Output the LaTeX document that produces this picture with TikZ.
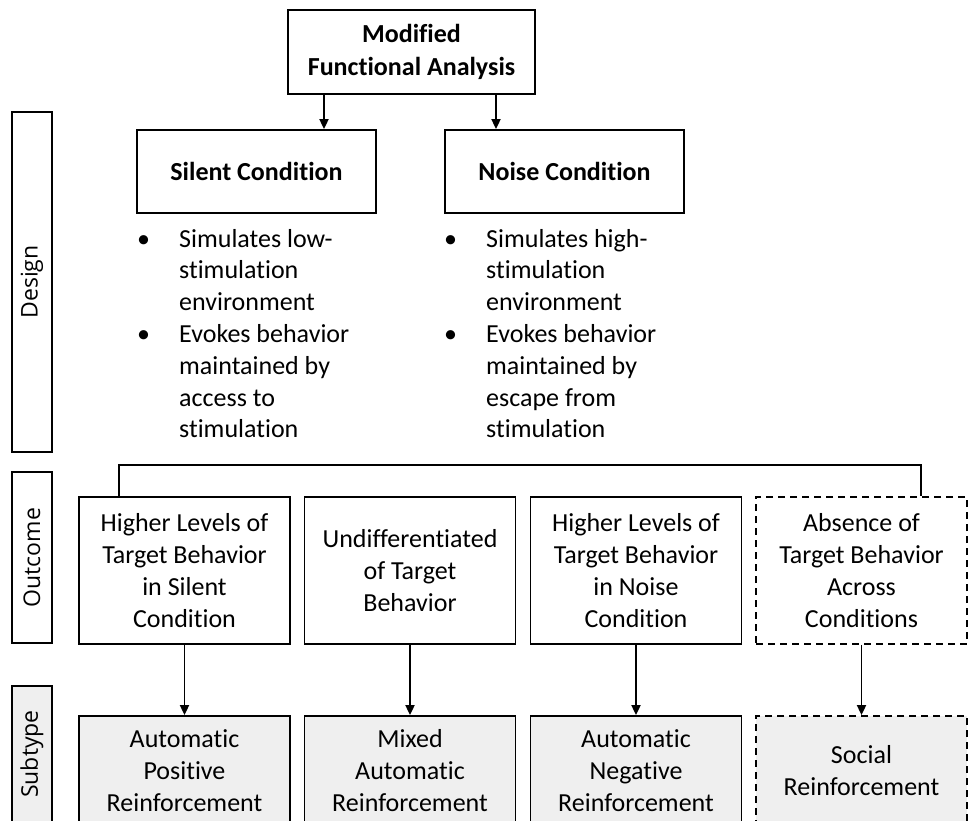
\documentclass[tikz,border=0pt]{standalone}
\usepackage{fontspec}
\setmainfont{Carlito}[Ligatures={NoCommon}]
\newfontfamily\labelfont{Open Sans}
\usetikzlibrary{arrows.meta}
\definecolor{subfill}{HTML}{EFEFEF}
\begin{document}
\begin{tikzpicture}[x=1pt,y=-1pt,
  box/.style={draw=black, line width=1.8pt, inner sep=0pt, align=center, font=\fontsize{26}{32}\selectfont},
  boldbox/.style={box, font=\bfseries\fontsize{26}{33}\selectfont},
  outbox/.style={box, minimum width=211pt, minimum height=147pt},
  subbox/.style={box, fill=subfill, minimum width=211pt, minimum height=110pt},
  dashbox/.style={dash pattern=on 7pt off 5pt},
  sidebox/.style={draw=black, line width=1.8pt, inner sep=0pt, rotate=90, minimum height=40pt, font=\labelfont\fontsize{23}{27}\selectfont},
  arr/.style={line width=1.8pt, -{Triangle[length=10pt,width=9pt]}},
  conn/.style={line width=1.8pt},
  blist/.style={anchor=north west, inner sep=0pt, font=\fontsize{26}{31.8}\selectfont}
]
\useasboundingbox (0,0) rectangle (968,820);
\clip (0,0) rectangle (968,820);

% top
\node[boldbox, minimum width=247pt, minimum height=84pt] (top) at (411.5,52) {Modified\\Functional Analysis};
\node[boldbox, minimum width=239pt, minimum height=83pt] (silent) at (256.5,171.5) {Silent Condition};
\node[boldbox, minimum width=239pt, minimum height=83pt] (noise) at (564.5,171.5) {Noise Condition};

\coordinate (ta) at (324,0);
\coordinate (tb) at (496,0);
\draw[arr] (ta |- top.south) -- (ta |- silent.north);
\draw[arr] (tb |- top.south) -- (tb |- noise.north);

% bullet lists
\node[blist] (silentlist) at (137,224.7) {\begin{tabular}{@{}p{42pt}@{}l@{}}
\textbullet & Simulates low-\\
 & stimulation\\
 & environment\\
\textbullet & Evokes behavior\\
 & maintained by\\
 & access to\\
 & stimulation
\end{tabular}};
\node[blist] (noiselist) at (444,224.7) {\begin{tabular}{@{}p{42pt}@{}l@{}}
\textbullet & Simulates high-\\
 & stimulation\\
 & environment\\
\textbullet & Evokes behavior\\
 & maintained by\\
 & escape from\\
 & stimulation
\end{tabular}};

% side labels
\node[sidebox, minimum width=340pt] (design) at (32,282) {Design};
\node[sidebox, minimum width=171pt] (outcome) at (32,557.5) {Outcome};
\node[sidebox, minimum width=136pt, fill=subfill] (subtype) at (32,754) {Subtype};

% outcome row
\node[outbox] (o1) at (184.5,570.5) {Higher Levels of\\Target Behavior\\in Silent\\Condition};
\node[outbox] (o2) at (410,570.5) {Undifferentiated\\of Target\\Behavior};
\node[outbox] (o3) at (636,570.5) {Higher Levels of\\Target Behavior\\in Noise\\Condition};
\node[outbox, dashbox] (o4) at (861.5,570.5) {Absence of\\Target Behavior\\Across\\Conditions};

% subtype row
\node[subbox] (s1) at (184.5,771) {Automatic\\Positive\\Reinforcement};
\node[subbox] (s2) at (410,771) {Mixed\\Automatic\\Reinforcement};
\node[subbox] (s3) at (636,771) {Automatic\\Negative\\Reinforcement};
\node[subbox, dashbox] (s4) at (861.5,771) {Social\\Reinforcement};

% bracket
\coordinate (bl) at (119,465);
\coordinate (br) at (921,465);
\draw[conn] (bl |- o1.north) -- (bl) -- (br) -- (br |- o4.north);

% arrows
\draw[arr] (o1.south) -- (s1.north);
\draw[arr] (o2.south) -- (s2.north);
\draw[arr] (o3.south) -- (s3.north);
\draw[arr] (o4.south) -- (s4.north);
\end{tikzpicture}
\end{document}
